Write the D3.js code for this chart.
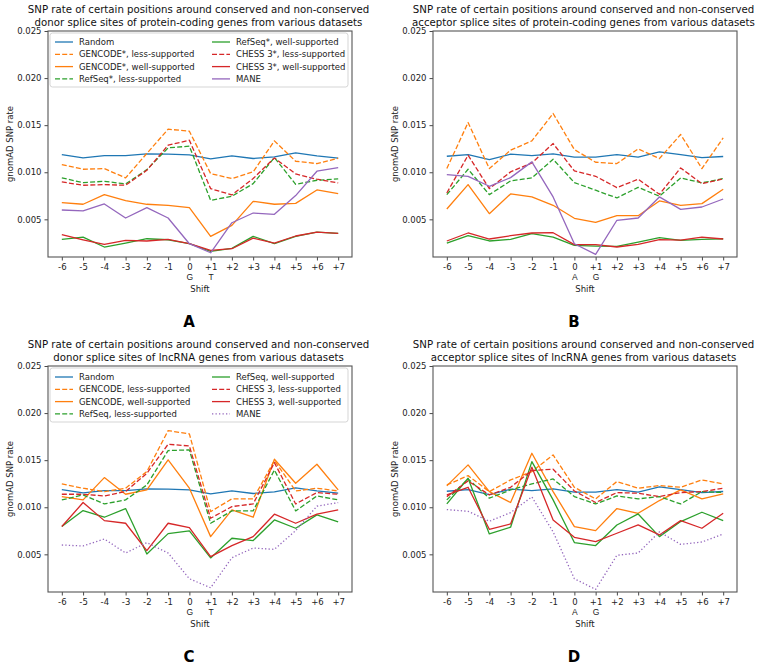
<!DOCTYPE html>
<html>
<head>
<meta charset="utf-8">
<script src="https://cdn.jsdelivr.net/npm/d3@7"></script>
<style>
  body { margin: 0; background: #fff; }
  svg { font-family: "DejaVu Sans", sans-serif; }
</style>
</head>
<body>
<script>
// x positions (shift) and their labels
const shifts = [-6, -5, -4, -3, -2, -1, 0, 1, 2, 3, 4, 5, 6, 7];
const shiftLabels = ["-6", "-5", "-4", "-3", "-2", "-1", "0", "+1", "+2", "+3", "+4", "+5", "+6", "+7"];
const yTicks = [0.005, 0.010, 0.015, 0.020, 0.025];

// shared series
const randomDonor = [0.01188, 0.01153, 0.01177, 0.01177, 0.01195, 0.01192, 0.01185, 0.01142, 0.01174, 0.01146, 0.01163, 0.01206, 0.01174, 0.0115];
const randomAcceptor = [0.0117, 0.01188, 0.01135, 0.01192, 0.01177, 0.01195, 0.0116, 0.0116, 0.01188, 0.0116, 0.01216, 0.01188, 0.01156, 0.01167];
const maneDonor = [0.00599, 0.00589, 0.00663, 0.00514, 0.00624, 0.00514, 0.00241, 0.00145, 0.00464, 0.00567, 0.00553, 0.00752, 0.01011, 0.0105];
const maneAcceptor = [0.00975, 0.00957, 0.00851, 0.00943, 0.0111, 0.00738, 0.00241, 0.00128, 0.0049, 0.00514, 0.00738, 0.00606, 0.00631, 0.00716];

// A: protein-coding donor
const pcDonorGencodeLess = [0.01082, 0.01032, 0.01039, 0.0094, 0.0120, 0.01457, 0.01436, 0.00986, 0.00933, 0.01004, 0.01333, 0.01117, 0.01092, 0.01149];
const pcDonorGencodeWell = [0.00677, 0.0066, 0.00762, 0.00699, 0.0066, 0.00649, 0.00624, 0.00319, 0.00436, 0.00691, 0.0066, 0.0067, 0.00812, 0.00773];
const pcDonorRefseqLess = [0.0094, 0.0089, 0.00904, 0.00876, 0.01028, 0.01259, 0.01277, 0.00702, 0.00745, 0.00879, 0.01156, 0.00872, 0.00915, 0.00929];
const pcDonorRefseqWell = [0.00287, 0.00312, 0.00206, 0.00248, 0.00294, 0.00283, 0.00241, 0.0016, 0.00191, 0.00319, 0.00241, 0.00319, 0.00365, 0.00351];
const pcDonorChessLess = [0.00897, 0.00862, 0.00869, 0.00862, 0.01021, 0.01287, 0.0134, 0.00826, 0.00759, 0.00933, 0.01152, 0.00982, 0.00926, 0.00887];
const pcDonorChessWell = [0.00337, 0.00283, 0.00234, 0.00277, 0.0027, 0.00287, 0.00241, 0.0017, 0.00188, 0.0030, 0.00248, 0.00323, 0.00365, 0.00351];

// B: protein-coding acceptor
const pcAccGencodeLess = [0.01039, 0.01528, 0.01039, 0.01234, 0.01333, 0.01624, 0.01241, 0.01106, 0.01092, 0.01248, 0.01145, 0.01401, 0.01039, 0.01365];
const pcAccGencodeWell = [0.0061, 0.00869, 0.0056, 0.0077, 0.00738, 0.00649, 0.00511, 0.00468, 0.00539, 0.00539, 0.00695, 0.00649, 0.00667, 0.00819];
const pcAccRefseqLess = [0.00762, 0.01032, 0.00762, 0.00908, 0.0094, 0.01138, 0.0089, 0.00809, 0.00727, 0.0084, 0.00745, 0.0094, 0.00887, 0.00933];
const pcAccRefseqWell = [0.00248, 0.00326, 0.0027, 0.00287, 0.00348, 0.00312, 0.00223, 0.00216, 0.00213, 0.00259, 0.00305, 0.00277, 0.00287, 0.00294];
const pcAccChessLess = [0.0078, 0.01181, 0.00826, 0.01004, 0.01099, 0.01305, 0.01014, 0.00957, 0.00837, 0.00926, 0.00766, 0.01046, 0.00879, 0.00929];
const pcAccChessWell = [0.0027, 0.00355, 0.00291, 0.00326, 0.00355, 0.00358, 0.00231, 0.00231, 0.00206, 0.00234, 0.00284, 0.0028, 0.00312, 0.00291];

// C: lncRNA donor
const lncDonorGencodeLess = [0.01248, 0.01202, 0.01166, 0.01202, 0.01379, 0.01814, 0.01779, 0.00954, 0.01089, 0.01089, 0.01496, 0.01173, 0.01202, 0.01173];
const lncDonorGencodeWell = [0.01113, 0.01078, 0.01315, 0.01138, 0.01184, 0.01503, 0.01202, 0.00688, 0.00972, 0.00894, 0.0151, 0.01255, 0.01457, 0.01184];
const lncDonorRefseqLess = [0.01078, 0.01131, 0.01035, 0.01078, 0.01237, 0.01602, 0.01609, 0.0083, 0.00961, 0.00961, 0.01396, 0.00961, 0.0112, 0.01078];
const lncDonorRefseqWell = [0.00795, 0.00965, 0.00894, 0.00986, 0.00504, 0.0072, 0.00749, 0.00462, 0.00671, 0.00646, 0.00865, 0.00777, 0.00919, 0.00844];
const lncDonorChessLess = [0.01138, 0.01138, 0.0112, 0.01166, 0.01361, 0.01669, 0.01651, 0.00883, 0.01007, 0.01035, 0.01474, 0.01035, 0.01156, 0.01138];
const lncDonorChessWell = [0.00795, 0.0105, 0.00858, 0.0083, 0.0054, 0.0083, 0.00784, 0.00476, 0.00593, 0.00688, 0.00926, 0.0083, 0.00926, 0.00972];

// D: lncRNA acceptor
const lncAccGencodeLess = [0.01237, 0.01336, 0.01166, 0.0129, 0.01379, 0.01556, 0.01212, 0.01089, 0.01273, 0.01202, 0.0123, 0.01212, 0.0129, 0.01248];
const lncAccGencodeWell = [0.01227, 0.0145, 0.01166, 0.0105, 0.01573, 0.01166, 0.00795, 0.00752, 0.00986, 0.00936, 0.01071, 0.01184, 0.01089, 0.01142];
const lncAccRefseqLess = [0.01078, 0.01301, 0.01096, 0.01184, 0.01248, 0.01301, 0.01113, 0.01035, 0.0112, 0.01089, 0.01113, 0.01035, 0.01166, 0.01156];
const lncAccRefseqWell = [0.01035, 0.01308, 0.00717, 0.00788, 0.01485, 0.01078, 0.00625, 0.00593, 0.00812, 0.00929, 0.00688, 0.00848, 0.00947, 0.00858];
const lncAccChessLess = [0.01113, 0.0128, 0.01131, 0.01212, 0.0139, 0.01404, 0.01173, 0.0105, 0.01156, 0.01149, 0.01113, 0.01156, 0.01166, 0.01202];
const lncAccChessWell = [0.01131, 0.01212, 0.00766, 0.00823, 0.01425, 0.00865, 0.00681, 0.00635, 0.00724, 0.00812, 0.00706, 0.00858, 0.00777, 0.00936];

const seriesNamesPc = ["Random", "GENCODE*, less-supported", "GENCODE*, well-supported", "RefSeq*, less-supported",
  "RefSeq*, well-supported", "CHESS 3*, less-supported", "CHESS 3*, well-supported", "MANE"];
const seriesNamesLnc = ["Random", "GENCODE, less-supported", "GENCODE, well-supported", "RefSeq, less-supported",
  "RefSeq, well-supported", "CHESS 3, less-supported", "CHESS 3, well-supported", "MANE"];

const colors = ["#1f77b4", "#ff7f0e", "#ff7f0e", "#2ca02c", "#2ca02c", "#d62728", "#d62728", "#9467bd"];
const dashPc = [null, "5,2.2", null, "5,2.2", null, "5,2.2", null, null];
const dashLnc = [null, "5,2.2", null, "5,2.2", null, "5,2.2", null, "1.3,2.2"];

const panels = [
  { letter: "A", left: 48, top: 31, kind: "donor", type: "protein-coding", bases: ["G", "T"], names: seriesNamesPc, dash: dashPc, legend: true,
    series: [randomDonor, pcDonorGencodeLess, pcDonorGencodeWell, pcDonorRefseqLess, pcDonorRefseqWell, pcDonorChessLess, pcDonorChessWell, maneDonor] },
  { letter: "B", left: 433, top: 31, kind: "acceptor", type: "protein-coding", bases: ["A", "G"], names: seriesNamesPc, dash: dashPc, legend: false,
    series: [randomAcceptor, pcAccGencodeLess, pcAccGencodeWell, pcAccRefseqLess, pcAccRefseqWell, pcAccChessLess, pcAccChessWell, maneAcceptor] },
  { letter: "C", left: 48, top: 366, kind: "donor", type: "lncRNA", bases: ["G", "T"], names: seriesNamesLnc, dash: dashLnc, legend: true,
    series: [randomDonor, lncDonorGencodeLess, lncDonorGencodeWell, lncDonorRefseqLess, lncDonorRefseqWell, lncDonorChessLess, lncDonorChessWell, maneDonor] },
  { letter: "D", left: 433, top: 366, kind: "acceptor", type: "lncRNA", bases: ["A", "G"], names: seriesNamesLnc, dash: dashLnc, legend: false,
    series: [randomAcceptor, lncAccGencodeLess, lncAccGencodeWell, lncAccRefseqLess, lncAccRefseqWell, lncAccChessLess, lncAccChessWell, maneAcceptor] }
];

const width = 764, height = 666;
const pw = 304, ph = 226;
const tickFont = 8.5;
const titleFont = 10.2;

const svg = d3.select("body").append("svg")
  .attr("width", width)
  .attr("height", height);

panels.forEach(p => {
  const x = d3.scaleLinear().domain([-6.65, 7.65]).range([0, pw]);
  const y = d3.scaleLinear().domain([0.001, 0.025]).range([ph, 0]);

  const g = svg.append("g").attr("transform", `translate(${p.left},${p.top})`);

  // axes
  const xAxis = g.append("g")
    .attr("transform", `translate(0,${ph})`)
    .call(d3.axisBottom(x).tickValues(shifts).tickSize(3.5).tickPadding(3)
      .tickFormat((d, i) => shiftLabels[i]).tickSizeOuter(0));
  xAxis.select(".domain").remove();
  xAxis.selectAll("text").attr("font-size", tickFont).attr("font-family", "DejaVu Sans").attr("fill", "#222");
  xAxis.selectAll(".tick").filter(d => d === 0 || d === 1)
    .append("text")
    .attr("y", 16.8)
    .attr("dy", "0.71em")
    .attr("text-anchor", "middle")
    .attr("font-size", tickFont)
    .attr("fill", "#222")
    .text(d => p.bases[d]);

  const yAxis = g.append("g")
    .call(d3.axisLeft(y).tickValues(yTicks).tickSize(3.5).tickPadding(3)
      .tickFormat(d3.format(".3f")).tickSizeOuter(0));
  yAxis.select(".domain").remove();
  yAxis.selectAll("text").attr("font-size", tickFont).attr("font-family", "DejaVu Sans").attr("fill", "#222");
  g.selectAll(".tick line").attr("stroke", "#333").attr("stroke-width", 0.9);

  // lines
  const line = d3.line().x((d, i) => x(shifts[i])).y(d => y(d));
  g.append("g")
    .selectAll("path")
    .data(p.series)
    .join("path")
    .attr("d", d => line(d))
    .attr("fill", "none")
    .attr("stroke", (d, i) => colors[i])
    .attr("stroke-width", 1.3)
    .attr("stroke-dasharray", (d, i) => p.dash[i])
    .attr("stroke-linejoin", "round");

  // frame
  g.append("rect")
    .attr("width", pw)
    .attr("height", ph)
    .attr("fill", "none")
    .attr("stroke", "#555")
    .attr("stroke-width", 1.1);

  // legend
  if (p.legend) {
    const lg = g.append("g");
    lg.append("rect")
      .attr("x", 2)
      .attr("y", 2)
      .attr("width", 298)
      .attr("height", 54)
      .attr("rx", 2.5)
      .attr("fill", "#fff")
      .attr("fill-opacity", 0.8)
      .attr("stroke", "#d0d0d0")
      .attr("stroke-width", 0.9);
    const items = lg.selectAll("g.item")
      .data(p.names)
      .join("g")
      .attr("class", "item")
      .attr("transform", (d, i) => `translate(${i < 4 ? 0 : 157},${11 + (i % 4) * 12.3})`);
    items.append("line")
      .attr("x1", 7).attr("x2", 25)
      .attr("stroke", (d, i) => colors[i])
      .attr("stroke-width", 1.3)
      .attr("stroke-dasharray", (d, i) => p.dash[i]);
    items.append("text")
      .attr("x", 31)
      .attr("dy", "0.35em")
      .attr("font-size", tickFont)
      .attr("fill", "#222")
      .text(d => d);
  }

  // title
  const title = g.append("text")
    .attr("text-anchor", "middle")
    .attr("font-size", titleFont)
    .attr("fill", "#111");
  title.append("tspan").attr("x", pw / 2 - 1.5).attr("y", -17.6)
    .text("SNP rate of certain positions around conserved and non-conserved");
  title.append("tspan").attr("x", pw / 2 - 1.5).attr("y", -5.2)
    .text(`${p.kind} splice sites of ${p.type} genes from various datasets`);

  // axis labels
  g.append("text")
    .attr("x", pw / 2)
    .attr("y", ph + 34.7)
    .attr("text-anchor", "middle")
    .attr("font-size", tickFont)
    .attr("fill", "#222")
    .text("Shift");
  g.append("text")
    .attr("transform", `translate(-35,${ph / 2}) rotate(-90)`)
    .attr("text-anchor", "middle")
    .attr("font-size", tickFont)
    .attr("fill", "#222")
    .text("gnomAD SNP rate");

  // panel letter
  g.append("text")
    .attr("x", pw / 2 - 11)
    .attr("y", ph + 69.5)
    .attr("text-anchor", "middle")
    .attr("font-size", 15)
    .attr("font-weight", "bold")
    .attr("fill", "#000")
    .text(p.letter);
});
</script>
</body>
</html>
